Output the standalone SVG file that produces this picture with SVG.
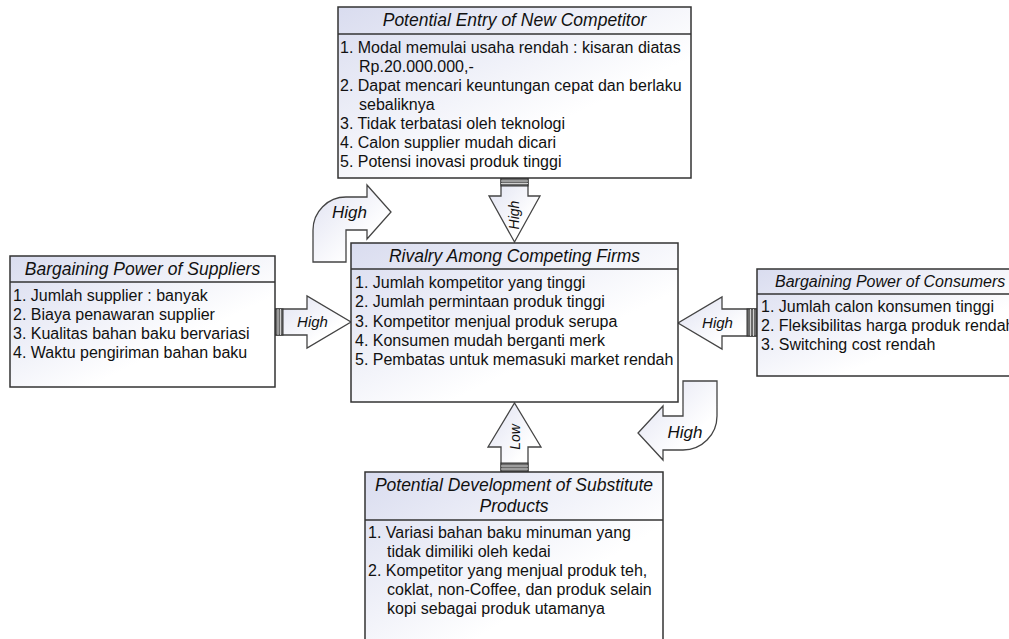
<svg xmlns="http://www.w3.org/2000/svg" width="1009" height="639" viewBox="0 0 1009 639">
<defs>
<linearGradient id="g" x1="0" y1="0" x2="1" y2="1">
<stop offset="0" stop-color="#d9dcef"/>
<stop offset="0.65" stop-color="#ffffff"/>
</linearGradient>
<linearGradient id="ga" x1="0" y1="0" x2="1" y2="1">
<stop offset="0" stop-color="#dfe1f1"/>
<stop offset="0.7" stop-color="#ffffff"/>
</linearGradient>
</defs>
<style>
.box{fill:url(#g);stroke:#333;stroke-width:1.5}
.sep{stroke:#333;stroke-width:1.5}
.arr{fill:url(#ga);stroke:#444;stroke-width:1.3;stroke-linejoin:miter}
.strip{fill:#6a6a6a;stroke:#333;stroke-width:1}
.sl{stroke:#cfcfcf;stroke-width:1}
.h{font-family:"Liberation Sans",Arial,sans-serif;font-style:italic;font-size:17.5px;fill:#111;text-anchor:middle}
.t{font-family:"Liberation Sans",Arial,sans-serif;font-size:16px;fill:#111}
.lb{font-family:"Liberation Sans",Arial,sans-serif;font-style:italic;font-size:15px;fill:#111;text-anchor:middle}
</style>
<g id="connectors">
<g id="arrow-entry">
<path class="arr" d="M501,178 L528,178 L528,196 L540,196 L514.5,242 L489,196 L501,196 Z"/>
<rect class="strip" x="501" y="178" width="27" height="8"/>
<line class="sl" x1="501" y1="181" x2="528" y2="181"/><line class="sl" x1="501" y1="183.5" x2="528" y2="183.5"/>
<text class="lb" style="font-size:14px" transform="translate(519,215) rotate(-90)">High</text>
</g>
<g id="arrow-substitute">
<path class="arr" d="M501,472 L528,472 L528,447 L541,447 L514.5,403 L488,447 L501,447 Z"/>
<rect class="strip" x="501" y="463" width="27" height="9"/>
<line class="sl" x1="501" y1="466" x2="528" y2="466"/><line class="sl" x1="501" y1="469" x2="528" y2="469"/>
<text class="lb" style="font-size:14px" transform="translate(519.5,437) rotate(-90)">Low</text>
</g>
<g id="arrow-suppliers">
<path class="arr" d="M275,309 L307,309 L307,296 L351,322 L307,348 L307,335 L275,335 Z"/>
<rect class="strip" x="275" y="309" width="8" height="26"/>
<line class="sl" x1="278" y1="309" x2="278" y2="335"/><line class="sl" x1="280.5" y1="309" x2="280.5" y2="335"/>
<text class="lb" x="312.5" y="327">High</text>
</g>
<g id="arrow-consumers">
<path class="arr" d="M757,309 L722,309 L722,297 L678,323 L722,349 L722,336 L757,336 Z"/>
<rect class="strip" x="747" y="309" width="10" height="27"/>
<line class="sl" x1="750.5" y1="309" x2="750.5" y2="336"/><line class="sl" x1="753.5" y1="309" x2="753.5" y2="336"/>
<text class="lb" x="717.5" y="328">High</text>
</g>
<g id="arrow-curve-left">
<path class="arr" d="M313,262 L313,230 A33,33 0 0 1 346,197 L367,197 L367,185 L391,212 L367,239 L367,230 L346,230 L346,262 Z"/>
<text class="lb" style="font-size:17px" x="349.5" y="218">High</text>
</g>
<g id="arrow-curve-right">
<path class="arr" d="M683,381 L717,381 L717,416 A34,34 0 0 1 683,450 L663,450 L663,460 L638,433 L663,406 L663,416 L683,416 Z"/>
<text class="lb" style="font-size:17px" x="685" y="438">High</text>
</g>
</g>
<g id="node-entry">
<rect class="box" x="338" y="7" width="353" height="171"/>
<line class="sep" x1="338" y1="34" x2="691" y2="34"/>
<text class="h" x="514.5" y="26">Potential Entry of New Competitor</text>
<text class="t" x="340" y="53">1. Modal memulai usaha rendah : kisaran diatas</text>
<text class="t" x="359" y="72">Rp.20.000.000,-</text>
<text class="t" x="340" y="91">2. Dapat mencari keuntungan cepat dan berlaku</text>
<text class="t" x="359" y="110">sebaliknya</text>
<text class="t" x="340" y="129">3. Tidak terbatasi oleh teknologi</text>
<text class="t" x="340" y="148">4. Calon supplier mudah dicari</text>
<text class="t" x="340" y="167">5. Potensi inovasi produk tinggi</text>
</g>
<g id="node-rivalry">
<rect class="box" x="351" y="243" width="327" height="159"/>
<line class="sep" x1="351" y1="269" x2="678" y2="269"/>
<text class="h" x="514.5" y="262">Rivalry Among Competing Firms</text>
<text class="t" x="355" y="288">1. Jumlah kompetitor yang tinggi</text>
<text class="t" x="355" y="307">2. Jumlah permintaan produk tinggi</text>
<text class="t" x="355" y="326.5">3. Kompetitor menjual produk serupa</text>
<text class="t" x="355" y="345.5">4. Konsumen mudah berganti merk</text>
<text class="t" x="355" y="365">5. Pembatas untuk memasuki market rendah</text>
</g>
<g id="node-suppliers">
<rect class="box" x="10" y="256" width="265" height="131"/>
<line class="sep" x1="10" y1="282" x2="275" y2="282"/>
<text class="h" x="142.5" y="275">Bargaining Power of Suppliers</text>
<text class="t" x="13" y="301">1. Jumlah supplier : banyak</text>
<text class="t" x="13" y="320">2. Biaya penawaran supplier</text>
<text class="t" x="13" y="339">3. Kualitas bahan baku bervariasi</text>
<text class="t" x="13" y="358">4. Waktu pengiriman bahan baku</text>
</g>
<g id="node-consumers">
<rect class="box" x="757" y="269" width="270" height="107"/>
<line class="sep" x1="757" y1="294" x2="1027" y2="294"/>
<text class="h" style="text-anchor:start;font-size:16px" x="775" y="287">Bargaining Power of Consumers</text>
<text class="t" x="761" y="312">1. Jumlah calon konsumen tinggi</text>
<text class="t" x="761" y="331">2. Fleksibilitas harga produk rendah</text>
<text class="t" x="761" y="350">3. Switching cost rendah</text>
</g>
<g id="node-substitute">
<rect class="box" x="365" y="472" width="298" height="180"/>
<line class="sep" x1="365" y1="520" x2="663" y2="520"/>
<text class="h" x="514" y="491">Potential Development of Substitute</text>
<text class="h" x="514" y="512">Products</text>
<text class="t" x="368" y="538">1. Variasi bahan baku minuman yang</text>
<text class="t" x="387" y="557">tidak dimiliki oleh kedai</text>
<text class="t" x="368" y="576">2. Kompetitor yang menjual produk teh,</text>
<text class="t" x="387" y="595">coklat, non-Coffee, dan produk selain</text>
<text class="t" x="387" y="614">kopi sebagai produk utamanya</text>
</g>
</svg>
